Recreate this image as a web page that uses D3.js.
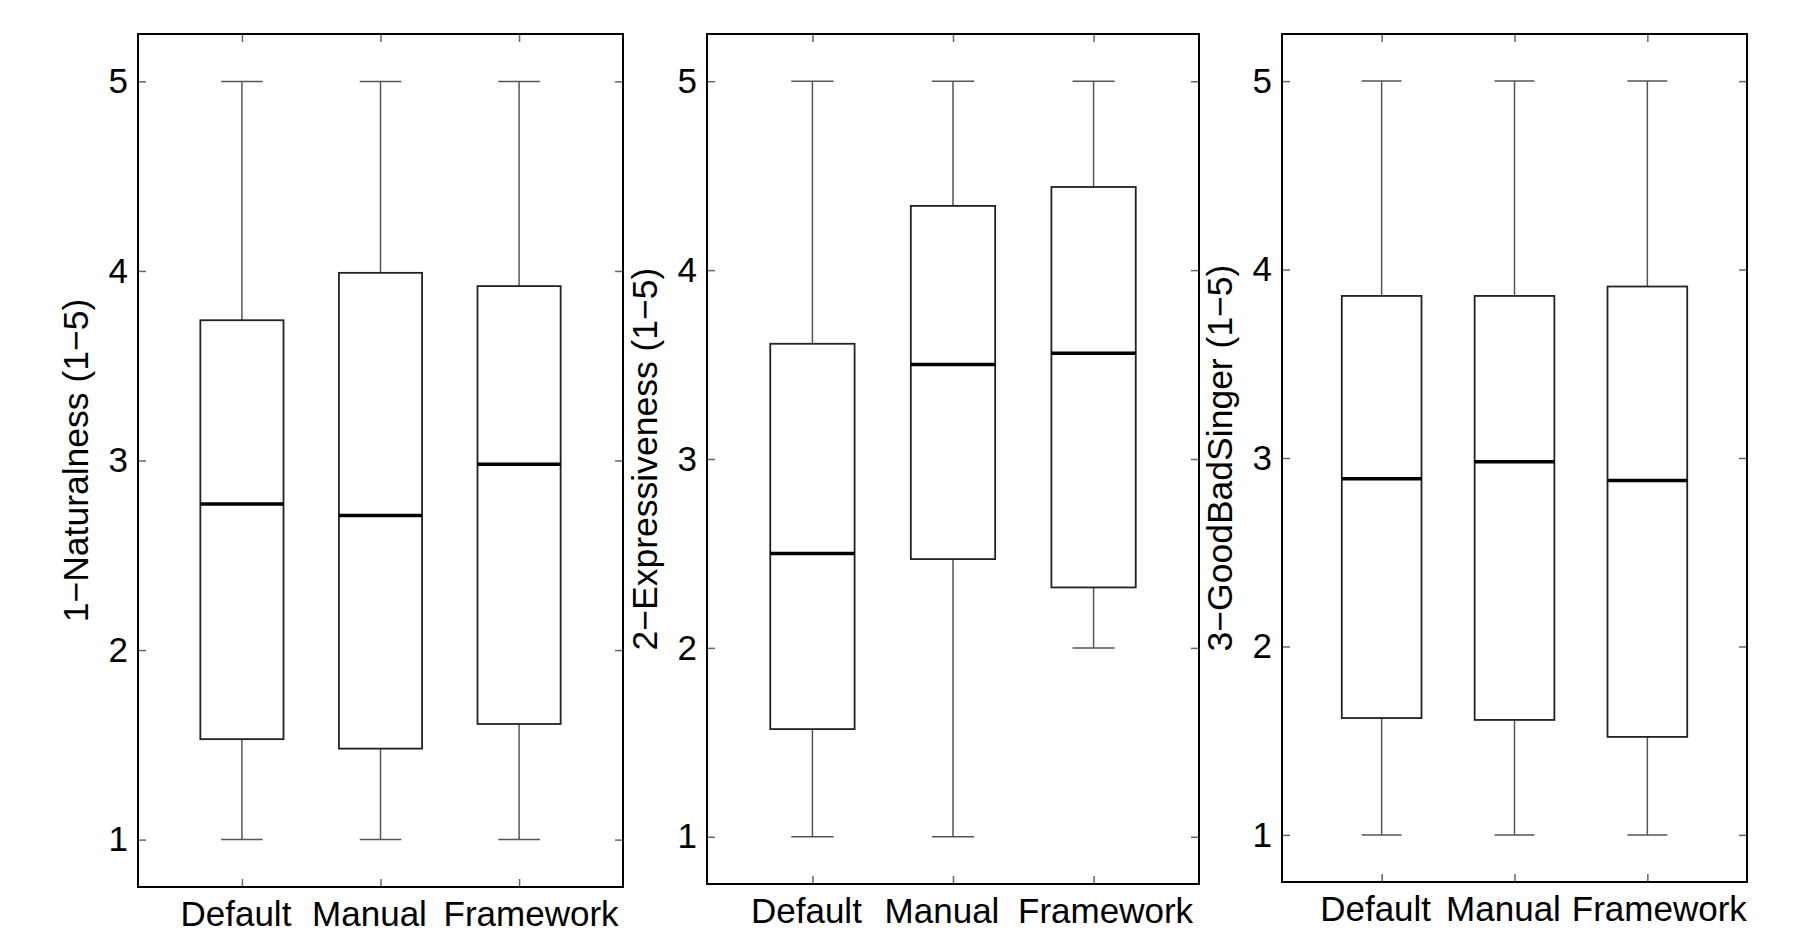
<!DOCTYPE html>
<html>
<head>
    <meta charset="utf-8">
    <title>Boxplots</title>
    <script src="https://d3js.org/d3.v7.min.js"></script>
    <style>
        body { margin: 0; background: #fff; }
        text { font-family: "Liberation Sans", Arial, Helvetica, sans-serif; fill: #000; }
    </style>
</head>
<body>
<script>
    // data
    let categories = ["Default", "Manual", "Framework"];
    let yTicks = [1, 2, 3, 4, 5];
    let yLabels = ["1\u2212Naturalness (1\u22125)", "2\u2212Expressiveness (1\u22125)", "3\u2212GoodBadSinger (1\u22125)"];

    // [lower whisker, q1, median, q3, upper whisker] per category
    let naturalness = [[1, 1.53, 2.77, 3.74, 5], [1, 1.48, 2.71, 3.99, 5], [1, 1.61, 2.98, 3.92, 5]];
    let expressiveness = [[1, 1.57, 2.50, 3.61, 5], [1, 2.47, 3.50, 4.34, 5], [2, 2.32, 3.56, 4.44, 5]];
    let goodBadSinger = [[1, 1.62, 2.89, 3.86, 5], [1, 1.61, 2.98, 3.86, 5], [1, 1.52, 2.88, 3.91, 5]];
    let series = [naturalness, expressiveness, goodBadSinger];

    // layout of the three axes (pixels)
    let panels = [
        {left: 138, right: 623, top: 34, bottom: 887},
        {left: 707, right: 1199, top: 34, bottom: 884},
        {left: 1282, right: 1747, top: 34, bottom: 882}
    ];
    let labelShift = [-6, -11, 12];   // matlab nudges the crowded labels apart
    let boxHalf = 0.30, capHalf = 0.15, tickLen = 8;

    let svg = d3.select('body').append('svg').attr("width", 1815).attr("height", 937);

    panels.forEach((p, i) => {
        let x = d3.scaleLinear().domain([0.25, 3.75]).range([p.left, p.right]);
        let y = d3.scaleLinear().domain([0.75, 5.25]).range([p.bottom, p.top]);
        let g = svg.append("g");

        // ticks on all four sides, pointing inwards
        let tickStyle = sel => {
            sel.select(".domain").remove();
            sel.selectAll(".tick line").attr("stroke", "#666").attr("stroke-width", 1.5);
        };
        g.append("g").attr("transform", `translate(${p.left},0)`)
            .call(d3.axisLeft(y).tickValues(yTicks).tickSize(-tickLen).tickPadding(10).tickFormat(d3.format("d")))
            .call(tickStyle)
            .selectAll("text").attr("font-size", 35).attr("font-family", null);
        g.append("g").attr("transform", `translate(${p.right},0)`)
            .call(d3.axisRight(y).tickValues(yTicks).tickSize(-tickLen).tickFormat(""))
            .call(tickStyle);
        g.append("g").attr("transform", `translate(0,${p.top})`)
            .call(d3.axisTop(x).tickValues([1, 2, 3]).tickSize(-tickLen).tickFormat(""))
            .call(tickStyle);
        g.append("g").attr("transform", `translate(0,${p.bottom})`)
            .call(d3.axisBottom(x).tickValues([1, 2, 3]).tickSize(-tickLen).tickFormat(""))
            .call(tickStyle);

        // category labels
        g.selectAll("text.cat").data(categories).enter()
            .append("text").attr("class", "cat")
            .attr("x", (d, j) => x(j + 1) + labelShift[j])
            .attr("y", p.bottom + 39)
            .attr("text-anchor", "middle")
            .attr("font-size", 35)
            .text(d => d);

        // y label
        g.append("text")
            .attr("transform", `translate(${p.left - 50},${(p.top + p.bottom) / 2}) rotate(-90)`)
            .attr("text-anchor", "middle")
            .attr("font-size", 35.5)
            .text(yLabels[i]);

        // boxes
        let b = g.selectAll("g.box").data(series[i]).enter().append("g").attr("class", "box");
        // whiskers
        b.append("line").attr("x1", (d, j) => x(j + 1)).attr("x2", (d, j) => x(j + 1))
            .attr("y1", d => y(d[0])).attr("y2", d => y(d[1]))
            .attr("stroke", "#555").attr("stroke-width", 1.5);
        b.append("line").attr("x1", (d, j) => x(j + 1)).attr("x2", (d, j) => x(j + 1))
            .attr("y1", d => y(d[3])).attr("y2", d => y(d[4]))
            .attr("stroke", "#555").attr("stroke-width", 1.5);
        // caps
        b.append("line").attr("x1", (d, j) => x(j + 1 - capHalf)).attr("x2", (d, j) => x(j + 1 + capHalf))
            .attr("y1", d => y(d[0])).attr("y2", d => y(d[0]))
            .attr("stroke", "#555").attr("stroke-width", 1.5);
        b.append("line").attr("x1", (d, j) => x(j + 1 - capHalf)).attr("x2", (d, j) => x(j + 1 + capHalf))
            .attr("y1", d => y(d[4])).attr("y2", d => y(d[4]))
            .attr("stroke", "#555").attr("stroke-width", 1.5);
        // box
        b.append("rect")
            .attr("x", (d, j) => x(j + 1 - boxHalf))
            .attr("width", x(1 + boxHalf) - x(1 - boxHalf))
            .attr("y", d => y(d[3]))
            .attr("height", d => y(d[1]) - y(d[3]))
            .attr("fill", "none").attr("stroke", "#222").attr("stroke-width", 1.8);
        // median
        b.append("line").attr("x1", (d, j) => x(j + 1 - boxHalf)).attr("x2", (d, j) => x(j + 1 + boxHalf))
            .attr("y1", d => y(d[2])).attr("y2", d => y(d[2]))
            .attr("stroke", "#000").attr("stroke-width", 3.5);

        // frame
        g.append("rect").attr("x", p.left).attr("y", p.top)
            .attr("width", p.right - p.left).attr("height", p.bottom - p.top)
            .attr("fill", "none").attr("stroke", "#000").attr("stroke-width", 2);
    });
</script>
</body>
</html>
